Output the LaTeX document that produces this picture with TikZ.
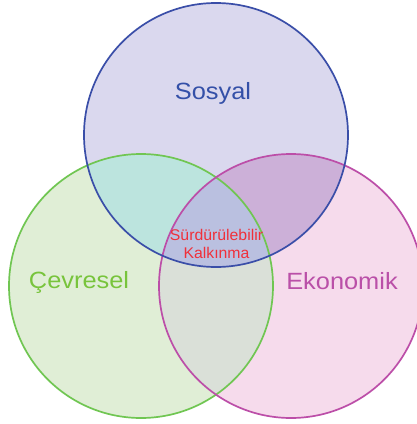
\documentclass[tikz,border=0pt]{standalone}
\usepackage{fontspec}
\setmainfont{Liberation Sans}
\usepackage{xcolor}
\usepackage{tikz}
\definecolor{sosline}{RGB}{58,78,168}
\definecolor{cevline}{RGB}{112,198,82}
\definecolor{ekoline}{RGB}{188,78,168}
\definecolor{sosfill}{RGB}{218,216,238}
\definecolor{cevfill}{RGB}{224,238,214}
\definecolor{ekofill}{RGB}{246,219,236}
\definecolor{scfill}{RGB}{188,228,222}
\definecolor{sefill}{RGB}{204,176,216}
\definecolor{cefill}{RGB}{218,224,216}
\definecolor{allfill}{RGB}{186,192,224}
\definecolor{textsos}{RGB}{52,80,168}
\definecolor{textcev}{RGB}{120,196,60}
\definecolor{texteko}{RGB}{186,80,168}
\definecolor{textsk}{RGB}{240,48,58}

\begin{document}
\begin{tikzpicture}[x=1pt, y=-1pt,
  ring/.style={line width=1.7pt},
  bigtext/.style={anchor=base,inner sep=0pt,font=\fontsize{23.5}{27}\selectfont},
  smalltext/.style={anchor=base,inner sep=0pt,text=textsk,font=\fontsize{15.5}{18}\selectfont}]
  \useasboundingbox (0,0) rectangle (416,424);
  \fill[white] (0,0) rectangle (416,424);

  \coordinate (sos) at (216,135);
  \coordinate (cev) at (141,286);
  \coordinate (eko) at (291,286);

  % single areas
  \fill[sosfill] (sos) circle[radius=132pt];
  \fill[cevfill] (cev) circle[radius=132pt];
  \fill[ekofill] (eko) circle[radius=132pt];

  % pairwise overlaps
  \begin{scope}
    \clip (sos) circle[radius=132pt];
    \fill[scfill] (cev) circle[radius=132pt];
    \fill[sefill] (eko) circle[radius=132pt];
  \end{scope}
  \begin{scope}
    \clip (cev) circle[radius=132pt];
    \fill[cefill] (eko) circle[radius=132pt];
  \end{scope}
  % centre
  \begin{scope}
    \clip (sos) circle[radius=132pt];
    \clip (cev) circle[radius=132pt];
    \fill[allfill] (eko) circle[radius=132pt];
  \end{scope}

  \draw[ring,cevline] (cev) circle[radius=132pt];
  \draw[ring,ekoline] (eko) circle[radius=132pt];
  \draw[ring,sosline] (sos) circle[radius=132pt];

  \node[bigtext,text=textsos] (sosyal) at (213,99.5) {\scalebox{1.08}[1]{Sosyal}};
  \node[bigtext,text=textcev] (cevresel) at (79,288.5) {\scalebox{1.08}[1]{Çevresel}};
  \node[bigtext,text=texteko] (ekonomik) at (342,289) {\scalebox{1.08}[1]{Ekonomik}};
  \node[smalltext] (surdur) at (216.5,240) {\scalebox{1.02}[1]{Sürdürülebilir}};
  \node[smalltext] (kalkinma) at (216.5,258) {\scalebox{1.02}[1]{Kalkınma}};
\end{tikzpicture}
\end{document}
